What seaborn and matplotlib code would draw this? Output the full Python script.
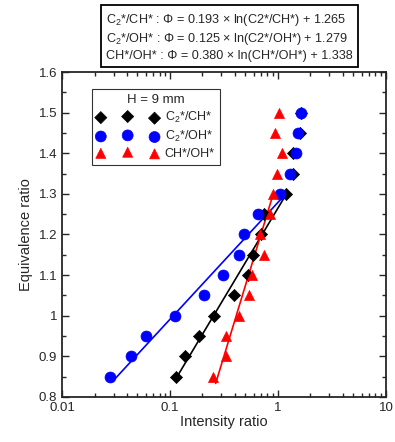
import matplotlib
matplotlib.use("Agg")
import matplotlib.pyplot as plt
import seaborn as sns
import numpy as np
import pandas as pd
from matplotlib.ticker import FixedLocator, FuncFormatter, LogLocator, MultipleLocator

# equivalence ratio steps
phi = [0.85, 0.9, 0.95, 1.0, 1.05, 1.1, 1.15, 1.2, 1.25, 1.3, 1.35, 1.4, 1.45, 1.5]

# intensity ratios
c2_ch = [0.114, 0.138, 0.187, 0.257, 0.39, 0.531, 0.583, 0.69, 0.742, 1.19, 1.39, 1.38, 1.6, 1.62]
c2_oh = [0.0278, 0.0433, 0.06, 0.111, 0.207, 0.312, 0.435, 0.487, 0.657, 1.04, 1.29, 1.46, 1.53, 1.64]
ch_oh = [0.252, 0.328, 0.333, 0.438, 0.539, 0.571, 0.742, 0.681, 0.843, 0.904, 0.973, 1.08, 0.938, 1.02]

# log fits: phi = a * ln(x) + b, drawn over the fitted range
fit_a = [0.193, 0.125, 0.380]
fit_b = [1.265, 1.279, 1.338]
fit_xmin = [0.114, 0.0305, 0.265]
fit_xmax = [1.19, 1.12, 0.88]

labels = ["C$_2$*/CH*", "C$_2$*/OH*", "CH*/OH*"]
colors = ["black", "blue", "red"]
markers = ["D", "o", "^"]
sizes = [38, 62, 52]

sns.set_style("ticks")
plt.rcParams["font.family"] = ["Liberation Sans", "DejaVu Sans"]
plt.rcParams["mathtext.fontset"] = "custom"
plt.rcParams["mathtext.rm"] = "Liberation Sans"
plt.rcParams["mathtext.it"] = "Liberation Sans"

fig = plt.figure(figsize=(3.95, 4.42), dpi=100)
ax = fig.add_axes([0.157, 0.102, 0.82, 0.735])

handles = []
for ys, lab, c, m, s in zip([c2_ch, c2_oh, ch_oh], labels, colors, markers, sizes):
    df = pd.DataFrame({"x": ys, "phi": phi})
    sns.scatterplot(data=df, x="x", y="phi", ax=ax, color=c, marker=m, s=s,
                    edgecolor=c, linewidth=0.5, zorder=3)
    handles.append(ax.collections[-1])

for a, b, x0, x1, c in zip(fit_a, fit_b, fit_xmin, fit_xmax, colors):
    xs = np.geomspace(x0, x1, 50)
    sns.lineplot(x=xs, y=a * np.log(xs) + b, ax=ax, color=c, linewidth=1.2, zorder=2)

ax.set_xscale("log")
ax.set_xlim(0.01, 10)
ax.set_ylim(0.8, 1.6)
ax.xaxis.set_major_locator(FixedLocator([0.01, 0.1, 1, 10]))
ax.xaxis.set_minor_locator(LogLocator(base=10, subs=np.arange(2, 10)))
ax.xaxis.set_major_formatter(FuncFormatter(lambda v, p: f"{v:g}"))
ax.yaxis.set_major_locator(MultipleLocator(0.1))
ax.yaxis.set_minor_locator(MultipleLocator(0.05))
ax.yaxis.set_major_formatter(FuncFormatter(lambda v, p: f"{v:g}"))
ax.tick_params(which="both", direction="in", top=True, right=True, labelsize=9.5, width=1)
ax.tick_params(which="major", length=5)
ax.tick_params(which="minor", length=3)
for sp in ax.spines.values():
    sp.set_linewidth(1.3)

ax.set_xlabel("Intensity ratio", fontsize=10.5, labelpad=1)
ax.set_ylabel("Equivalence ratio", fontsize=10.5)

leg = ax.legend(handles, labels, title="H = 9 mm", loc="upper left",
                bbox_to_anchor=(0.085, 0.955), scatterpoints=3, fontsize=9,
                title_fontsize=9.5, frameon=True, fancybox=False, edgecolor="black",
                handletextpad=0.5, borderpad=0.4, labelspacing=0.3, handlelength=4.9,
                borderaxespad=0.2)
leg.get_frame().set_linewidth(0.8)

eq = ("C$_2$*/CH* : \u03a6 = 0.193 \u00d7 ln(C2*/CH*) + 1.265\n"
      "C$_2$*/OH* : \u03a6 = 0.125 \u00d7 ln(C2*/OH*) + 1.279\n"
      "CH*/OH* : \u03a6 = 0.380 \u00d7 ln(CH*/OH*) + 1.338")
fig.text(0.581, 0.916, eq, fontsize=9.1, ha="center", va="center", multialignment="left",
         linespacing=1.3,
         bbox=dict(boxstyle="square,pad=0.4", facecolor="white", edgecolor="black", linewidth=1.3))

fig.savefig("out.png", dpi=100)
